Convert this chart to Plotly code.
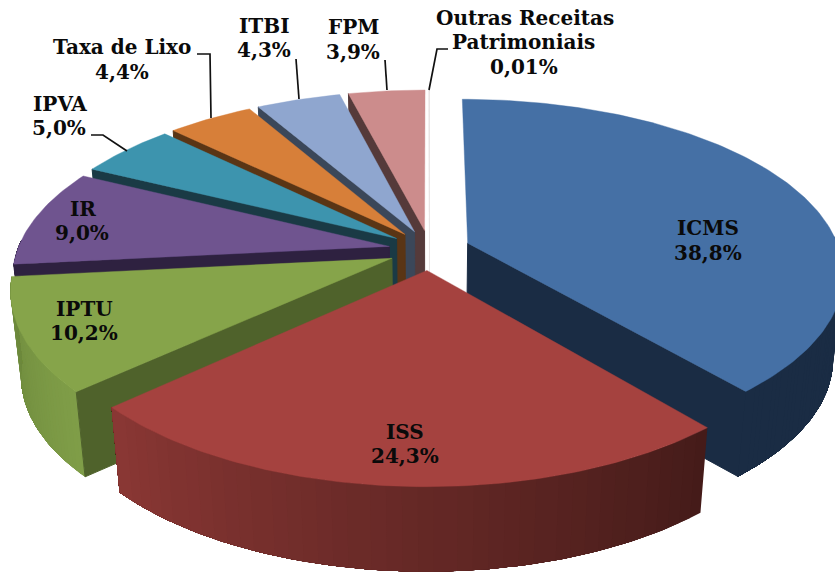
import math
import plotly.graph_objects as go

# ---- data ----
categories = ["ICMS", "ISS", "IPTU", "IR", "IPVA", "Taxa de Lixo", "ITBI", "FPM", "Outras Receitas Patrimoniais"]
values = [38.8, 24.3, 10.2, 9.0, 5.0, 4.4, 4.3, 3.9, 0.01]
value_labels = ["38,8%", "24,3%", "10,2%", "9,0%", "5,0%", "4,4%", "4,3%", "3,9%", "0,01%"]

# ---- styles ----
top_colors = ["#4570A5", "#A5423F", "#86A44A", "#6F548F", "#3D94AE", "#D77F39", "#8FA6CF", "#CC8C8C", "#E8E4E4"]
face_colors = ["#1A2C44", "#421A18", "#4F622B", "#2E2140", "#1A3A45", "#5A3515", "#3B4759", "#553A3A", "#E8E4E4"]
side_from = [(26, 44, 68), (68, 27, 25), (128, 158, 72), (46, 33, 64), (26, 58, 69), (90, 53, 21), (59, 71, 89), (85, 58, 58), (232, 228, 228)]
side_to = [(26, 44, 68), (138, 55, 52), (108, 136, 60), (46, 33, 64), (26, 58, 69), (90, 53, 21), (59, 71, 89), (85, 58, 58), (232, 228, 228)]
draw_order = [8, 7, 6, 5, 4, 3, 2, 0, 1]

# ---- projection of the tilted, exploded pie ----
CX, CY = 429.5, 250.0
A, B = 372.0, 171.0
EX, EY = 0.110, 0.117
KX, KY = 0.165, 0.173
DEPTH = 85.0
SHRINK = 0.975


def project(u, v, lower=False):
    x = CX + A * u / (1 + KX * v)
    y = CY - B * v / (1 + KY * v)
    if lower:
        x = CX + (x - CX) * SHRINK
        y = y + DEPTH
    return x, y


total = sum(values)
wedges = []
acc = 0.0
for val in values:
    a0 = acc / total * 2 * math.pi
    acc += val
    a1 = acc / total * 2 * math.pi
    wedges.append((a0, a1))

fig = go.Figure()


def poly(pts, color, line=0.6):
    xs = [p[0] for p in pts] + [pts[0][0]]
    ys = [p[1] for p in pts] + [pts[0][1]]
    fig.add_trace(go.Scatter(x=xs, y=ys, mode="lines", fill="toself", fillcolor=color,
                             line=dict(color=color, width=line), hoverinfo="skip", showlegend=False))


for i in draw_order:
    a0, a1 = wedges[i]
    mid = (a0 + a1) / 2
    du, dv = EX * math.sin(mid), EY * math.cos(mid)
    apex = (du, dv)

    def rim(a):
        return (math.sin(a) + du, math.cos(a) + dv)

    n = max(2, int((a1 - a0) / math.radians(1.0)))
    angles = [a0 + (a1 - a0) * k / n for k in range(n + 1)]

    # outer wall, shaded along the rim; each strip overlaps the next so no seams show
    wall = [a for a in angles if math.cos(a) < 0.05]
    shown = len(wall) - 1
    strips = 40 if shown > 0 else 0
    for s in range(strips):
        k0 = s * shown // strips
        t = (s + 0.5) / strips
        c = tuple(round(side_from[i][j] + (side_to[i][j] - side_from[i][j]) * t) for j in range(3))
        col = "rgb(%d,%d,%d)" % c
        arc = [rim(a) for a in wall[k0:]]
        pts = [project(*p) for p in arc] + [project(*p, lower=True) for p in arc[::-1]]
        poly(pts, col, line=0)

    # radial cut face that looks towards the viewer
    edge = a1 if i == 0 else a0
    if i != 1:
        r = rim(edge)
        poly([project(*apex), project(*r), project(*r, lower=True), project(*apex, lower=True)], face_colors[i], line=1)

    # top surface
    poly([project(*apex)] + [project(*rim(a)) for a in angles], top_colors[i], line=0.8 if i == 8 else 0.4)

# ---- leader lines ----
leaders = {
    "Taxa de Lixo": [(197, 54), (210, 54), (211, 118)],
    "IPVA": [(91, 135), (103, 135), (127, 151)],
    "ITBI": [(296, 59), (299, 99)],
    "FPM": [(385, 60), (387, 90)],
    "Outras Receitas Patrimoniais": [(448, 49), (437, 49), (429, 90)],
}
for pts in leaders.values():
    fig.add_trace(go.Scatter(x=[p[0] for p in pts], y=[p[1] for p in pts], mode="lines",
                             line=dict(color="#111111", width=1.7), hoverinfo="skip", showlegend=False))

# ---- labels ----
label_lines = {
    "ICMS": [(708, 228, "ICMS"), (708, 253, None)],
    "ISS": [(405, 432, "ISS"), (405, 456, None)],
    "IPTU": [(84, 309, "IPTU"), (84, 333, None)],
    "IR": [(83, 209, "IR"), (82, 233, None)],
    "IPVA": [(60, 104, "IPVA"), (59, 128, None)],
    "Taxa de Lixo": [(122, 47, "Taxa de Lixo"), (122, 72, None)],
    "ITBI": [(264, 26, "ITBI"), (264, 50, None)],
    "FPM": [(353, 27, "FPM"), (353, 52, None)],
    "Outras Receitas Patrimoniais": [(525, 18, "Outras Receitas"), (523, 42, "Patrimoniais"), (524, 67, None)],
}
annotations = []
for name, lab in zip(categories, value_labels):
    for x, y, txt in label_lines[name]:
        annotations.append(dict(x=x, y=y, xref="x", yref="y", text=txt or lab, showarrow=False,
                                xanchor="center", yanchor="middle",
                                font=dict(family="DejaVu Serif", size=20, color="#0a0a0a", weight="bold")))

fig.update_layout(
    width=835, height=573, margin=dict(l=0, r=0, t=0, b=0),
    paper_bgcolor="white", plot_bgcolor="white", showlegend=False,
    xaxis=dict(range=[0, 835], visible=False, fixedrange=True),
    yaxis=dict(range=[573, 0], visible=False, fixedrange=True),
    annotations=annotations,
)
fig.write_html("out.html", config={"displayModeBar": False},
               post_script="document.body.style.margin='0';document.body.style.overflow='hidden';")
